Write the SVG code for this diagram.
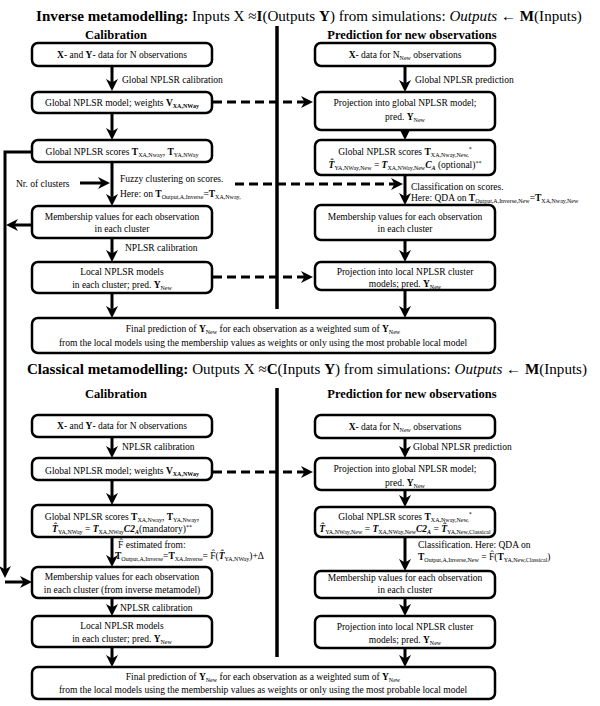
<svg xmlns="http://www.w3.org/2000/svg" width="600" height="706" viewBox="0 0 600 706">
<style>
text{font-family:"Liberation Serif","Times New Roman",serif;fill:#000}
.t{font-size:9.5px}
.c{text-anchor:middle}
.b{font-weight:bold}
.i{font-style:italic}
.title{font-size:15.1px;text-anchor:middle}
.h{font-size:12.5px;font-weight:bold;text-anchor:middle}
.box{fill:#fff;stroke:#000;stroke-width:2.5}
.ln{stroke:#000;stroke-width:3;fill:none}
.ds{stroke-dasharray:9 5}
.div{stroke:#000;stroke-width:3.5}
</style>
<defs>
<marker id="a" viewBox="0 0 10 10" refX="6.7" refY="5" markerWidth="12" markerHeight="12" markerUnits="userSpaceOnUse" orient="auto">
<path d="M0,0 L10,5 L0,10 L3,5 z" fill="#000"/>
</marker>
</defs>
<rect width="600" height="706" fill="#fff"/>

<!-- Titles and headings -->
<text x="309" y="21" class="title"><tspan class="b">Inverse metamodelling:</tspan> Inputs X ≈<tspan class="b">I</tspan>(Outputs <tspan class="b">Y</tspan>) from simulations: <tspan class="i">Outputs</tspan> ← <tspan class="b">M</tspan>(Inputs)</text>
<text x="116" y="39" class="h">Calibration</text>
<text x="412" y="39" class="h">Prediction for new observations</text>
<text x="307" y="374" class="title"><tspan class="b">Classical metamodelling:</tspan> Outputs X ≈<tspan class="b">C</tspan>(Inputs <tspan class="b">Y</tspan>) from simulations: <tspan class="i">Outputs</tspan> ← <tspan class="b">M</tspan>(Inputs)</text>
<text x="116" y="398" class="h">Calibration</text>
<text x="412" y="398" class="h">Prediction for new observations</text>

<!-- Connectors -->
<g id="connectors">
<line class="div" x1="277" y1="26" x2="277" y2="309"/>
<line class="div" x1="277" y1="388" x2="277" y2="657"/>
<!-- top left -->
<line class="ln" x1="112" y1="66" x2="112" y2="87" marker-end="url(#a)"/>
<line class="ln" x1="112" y1="113" x2="112" y2="136" marker-end="url(#a)"/>
<line class="ln" x1="112" y1="162" x2="112" y2="202" marker-end="url(#a)"/>
<line class="ln" x1="80" y1="183" x2="106" y2="183" marker-end="url(#a)"/>
<line class="ln" x1="112" y1="238" x2="112" y2="258" marker-end="url(#a)"/>
<line class="ln" x1="112" y1="293" x2="112" y2="314" marker-end="url(#a)"/>
<polyline class="ln" points="32,152 5,152 5,574" marker-end="url(#a)"/>
<line class="ln" x1="32" y1="225" x2="10" y2="225" marker-end="url(#a)"/>
<line class="ln" x1="5" y1="582" x2="28" y2="582" marker-end="url(#a)"/>
<!-- top right -->
<line class="ln" x1="405" y1="66" x2="405" y2="88" marker-end="url(#a)"/>
<line class="ln" x1="405" y1="130" x2="405" y2="136" marker-end="url(#a)"/>
<line class="ln" x1="405" y1="175" x2="405" y2="201" marker-end="url(#a)"/>
<line class="ln" x1="405" y1="240" x2="405" y2="258" marker-end="url(#a)"/>
<line class="ln" x1="405" y1="290" x2="405" y2="314" marker-end="url(#a)"/>
<!-- dashed -->
<line class="ln ds" x1="213" y1="102" x2="309" y2="102" marker-end="url(#a)"/>
<line class="ln ds" x1="235" y1="184" x2="399" y2="184" marker-end="url(#a)"/>
<line class="ln ds" x1="213" y1="277" x2="309" y2="277" marker-end="url(#a)"/>
<line class="ln ds" x1="213" y1="472" x2="309" y2="472" marker-end="url(#a)"/>
<!-- bottom left -->
<line class="ln" x1="112" y1="437" x2="112" y2="454" marker-end="url(#a)"/>
<line class="ln" x1="112" y1="480" x2="112" y2="501" marker-end="url(#a)"/>
<line class="ln" x1="112" y1="537" x2="112" y2="563" marker-end="url(#a)"/>
<line class="ln" x1="112" y1="598" x2="112" y2="612" marker-end="url(#a)"/>
<line class="ln" x1="112" y1="647" x2="112" y2="663" marker-end="url(#a)"/>
<!-- bottom right -->
<line class="ln" x1="405" y1="438" x2="405" y2="454" marker-end="url(#a)"/>
<line class="ln" x1="405" y1="490" x2="405" y2="503" marker-end="url(#a)"/>
<line class="ln" x1="405" y1="537" x2="405" y2="567" marker-end="url(#a)"/>
<line class="ln" x1="405" y1="598" x2="405" y2="612" marker-end="url(#a)"/>
<line class="ln" x1="405" y1="648" x2="405" y2="663" marker-end="url(#a)"/>
</g>

<!-- Connector labels -->
<g id="labels" class="t">
<text x="122" y="83" class="t">Global NPLSR calibration</text>
<text x="16" y="187" class="t">Nr. of clusters</text>
<text x="120" y="182" class="t">Fuzzy clustering on scores.</text>
<text x="120" y="197" class="t">Here: on <tspan class="b">T</tspan><tspan font-size="6" dy="2">Output,A,Inverse</tspan><tspan dy="-2">=</tspan><tspan class="b">T</tspan><tspan font-size="6" dy="2">XA,Nway,</tspan></text>
<text x="125" y="251" class="t">NPLSR calibration</text>
<text x="415" y="83" class="t">Global NPLSR prediction</text>
<text x="411" y="190" class="t">Classification on scores.</text>
<text x="411" y="201" class="t">Here: QDA on <tspan class="b">T</tspan><tspan font-size="6" dy="2">Output,A,Inverse,New</tspan><tspan dy="-2">=</tspan><tspan class="b">T</tspan><tspan font-size="6" dy="2">XA,Nway,New</tspan></text>
<text x="122" y="450" class="t">NPLSR calibration</text>
<text x="118" y="548" class="t">F̂ estimated from:</text>
<text x="115" y="559" class="t"><tspan class="b">T</tspan><tspan font-size="6" dy="2">Output,A,Inverse</tspan><tspan dy="-2">=</tspan><tspan class="b">T</tspan><tspan font-size="6" dy="2">XA,Inverse</tspan><tspan dy="-2">= F̂(</tspan><tspan class="b i">T̂</tspan><tspan font-size="6" dy="2">YA,NWay</tspan><tspan dy="-2">)+Δ</tspan></text>
<text x="120" y="611" class="t">NPLSR calibration</text>
<text x="413" y="450" class="t">Global NPLSR prediction</text>
<text x="418" y="548" class="t">Classification. Here: QDA on</text>
<text x="418" y="560" class="t"><tspan class="b">T</tspan><tspan font-size="6" dy="2">Output,A,Inverse,New</tspan><tspan dy="-2"> = F̂(</tspan><tspan class="b">T</tspan><tspan font-size="6" dy="2">YA,New,Classical</tspan><tspan dy="-2">)</tspan></text>
</g>

<!-- Top section nodes -->
<g id="L1"><rect class="box" x="32" y="43" width="180" height="23" rx="6"/>
<text x="122" y="58" class="t c"><tspan class="b">X</tspan>- and <tspan class="b">Y</tspan>- data for N observations</text></g>
<g id="L2"><rect class="box" x="32" y="92" width="180" height="21" rx="6"/>
<text x="122" y="106" class="t c">Global NPLSR model; weights <tspan class="b">V</tspan><tspan font-size="6" class="b" dy="2">XA,NWay</tspan></text></g>
<g id="L3"><rect class="box" x="32" y="140" width="180" height="22" rx="6"/>
<text x="122" y="155" class="t c">Global NPLSR scores  <tspan class="b">T</tspan><tspan font-size="6" dy="2">XA,Nway</tspan><tspan dy="-2">, </tspan><tspan class="b">T</tspan><tspan font-size="6" dy="2">YA,NWay</tspan></text></g>
<g id="L4"><rect class="box" x="32" y="206" width="180" height="32" rx="6"/>
<text x="122" y="220" class="t c">Membership values for each observation</text>
<text x="122" y="232" class="t c">in each cluster</text></g>
<g id="L5"><rect class="box" x="32" y="262" width="180" height="31" rx="6"/>
<text x="122" y="275" class="t c">Local NPLSR models</text>
<text x="122" y="288" class="t c">in each cluster; pred. <tspan class="b">Y</tspan><tspan font-size="6" dy="2">New</tspan></text></g>
<g id="R1"><rect class="box" x="315" y="43" width="180" height="23" rx="6"/>
<text x="405" y="58" class="t c"><tspan class="b">X</tspan>- data for N<tspan font-size="6" dy="2">New</tspan><tspan dy="-2"> observations</tspan></text></g>
<g id="R2"><rect class="box" x="315" y="92" width="180" height="38" rx="6"/>
<text x="405" y="106" class="t c">Projection into global NPLSR model;</text>
<text x="405" y="120" class="t c">pred. <tspan class="b">Y</tspan><tspan font-size="6" dy="2">New</tspan></text></g>
<g id="R3"><rect class="box" x="315" y="140" width="180" height="35" rx="6"/>
<text x="405" y="155" class="t c">Global NPLSR scores  <tspan class="b">T</tspan><tspan font-size="6" dy="2">XA,Nway,New,</tspan><tspan font-size="6" dy="-6">*</tspan></text>
<text x="405" y="168" class="t c"><tspan class="b i">T̂</tspan><tspan font-size="6" dy="2">YA,NWay,New</tspan><tspan dy="-2"> = </tspan><tspan class="b i">T</tspan><tspan font-size="6" dy="2">XA,NWay,New</tspan><tspan class="b i" dy="-2">C</tspan><tspan font-size="6" class="b i" dy="2">A</tspan><tspan dy="-2">  (optional)</tspan><tspan font-size="6" dy="-3">**</tspan></text></g>
<g id="R4"><rect class="box" x="315" y="205" width="180" height="35" rx="6"/>
<text x="405" y="220" class="t c">Membership values for each observation</text>
<text x="405" y="232" class="t c">in each cluster</text></g>
<g id="R5"><rect class="box" x="315" y="262" width="180" height="28" rx="6"/>
<text x="405" y="275" class="t c">Projection into local NPLSR cluster</text>
<text x="405" y="287" class="t c">models; pred. <tspan class="b">Y</tspan><tspan font-size="6" dy="2">New</tspan></text></g>
<g id="F1"><rect class="box" x="32" y="318" width="463" height="35" rx="6"/>
<text x="263" y="332" class="t c">Final prediction of <tspan class="b">Y</tspan><tspan font-size="6" dy="2">New</tspan><tspan dy="-2"> for each observation as a weighted sum of </tspan><tspan class="b">Y</tspan><tspan font-size="6" dy="2">New</tspan></text>
<text x="263" y="346" class="t c">from the local models using the membership values as weights or only using the most probable local model</text></g>

<!-- Bottom section nodes -->
<g id="LB1"><rect class="box" x="32" y="415" width="180" height="22" rx="6"/>
<text x="122" y="429" class="t c"><tspan class="b">X</tspan>- and <tspan class="b">Y</tspan>- data for N observations</text></g>
<g id="LB2"><rect class="box" x="32" y="458" width="180" height="22" rx="6"/>
<text x="122" y="474" class="t c">Global NPLSR model; weights <tspan class="b">V</tspan><tspan font-size="6" class="b" dy="2">XA,NWay</tspan></text></g>
<g id="LB3"><rect class="box" x="32" y="505" width="180" height="32" rx="6"/>
<text x="122" y="520" class="t c">Global NPLSR scores  <tspan class="b">T</tspan><tspan font-size="6" dy="2">XA,Nway</tspan><tspan dy="-2">, </tspan><tspan class="b">T</tspan><tspan font-size="6" dy="2">YA,Nway</tspan><tspan dy="-2">,</tspan></text>
<text x="122" y="532" class="t c"><tspan class="b i">T̂</tspan><tspan font-size="6" dy="2">YA,NWay</tspan><tspan dy="-2"> = </tspan><tspan class="b i">T</tspan><tspan font-size="6" dy="2">XA,NWay</tspan><tspan class="b i" dy="-2">C2</tspan><tspan font-size="6" class="b i" dy="2">A</tspan><tspan dy="-2">(mandatory)</tspan><tspan font-size="6" dy="-3">**</tspan></text></g>
<g id="LB4"><rect class="box" x="32" y="567" width="180" height="31" rx="6"/>
<text x="122" y="580" class="t c">Membership values for each observation</text>
<text x="122" y="593" class="t c">in each cluster (from inverse metamodel)</text></g>
<g id="LB5"><rect class="box" x="32" y="616" width="180" height="31" rx="6"/>
<text x="122" y="629" class="t c">Local NPLSR models</text>
<text x="122" y="642" class="t c">in each cluster; pred. <tspan class="b">Y</tspan><tspan font-size="6" dy="2">New</tspan></text></g>
<g id="RB1"><rect class="box" x="315" y="415" width="180" height="23" rx="6"/>
<text x="405" y="430" class="t c"><tspan class="b">X</tspan>- data for N<tspan font-size="6" dy="2">New</tspan><tspan dy="-2"> observations</tspan></text></g>
<g id="RB2"><rect class="box" x="315" y="458" width="180" height="32" rx="6"/>
<text x="405" y="472" class="t c">Projection into global NPLSR model;</text>
<text x="405" y="486" class="t c">pred. <tspan class="b">Y</tspan><tspan font-size="6" dy="2">New</tspan></text></g>
<g id="RB3"><rect class="box" x="315" y="507" width="180" height="30" rx="6"/>
<text x="405" y="520" class="t c">Global NPLSR scores  <tspan class="b">T</tspan><tspan font-size="6" dy="2">XA,Nway,New,</tspan><tspan font-size="6" dy="-6">*</tspan></text>
<text x="405" y="532" class="t c"><tspan class="b i">T̂</tspan><tspan font-size="6" dy="2">YA,NWay,New</tspan><tspan dy="-2"> = </tspan><tspan class="b i">T</tspan><tspan font-size="6" dy="2">XA,NWay,New</tspan><tspan class="b i" dy="-2">C2</tspan><tspan font-size="6" class="b i" dy="2">A</tspan><tspan dy="-2"> = </tspan><tspan class="b i">T̂</tspan><tspan font-size="6" dy="2">YA,New,Classical</tspan></text></g>
<g id="RB4"><rect class="box" x="315" y="571" width="180" height="27" rx="6"/>
<text x="405" y="581" class="t c">Membership values for each observation</text>
<text x="405" y="593" class="t c">in each cluster</text></g>
<g id="RB5"><rect class="box" x="315" y="616" width="180" height="32" rx="6"/>
<text x="405" y="630" class="t c">Projection into local NPLSR cluster</text>
<text x="405" y="643" class="t c">models; pred. <tspan class="b">Y</tspan><tspan font-size="6" dy="2">New</tspan></text></g>
<g id="F2"><rect class="box" x="32" y="667" width="463" height="32" rx="6"/>
<text x="263" y="680" class="t c">Final prediction of <tspan class="b">Y</tspan><tspan font-size="6" dy="2">New</tspan><tspan dy="-2">  for each observation as a weighted sum of </tspan><tspan class="b">Y</tspan><tspan font-size="6" dy="2">New</tspan></text>
<text x="263" y="693" class="t c">from the local models using the membership values as weights or only using the most probable local model</text></g>
</svg>
